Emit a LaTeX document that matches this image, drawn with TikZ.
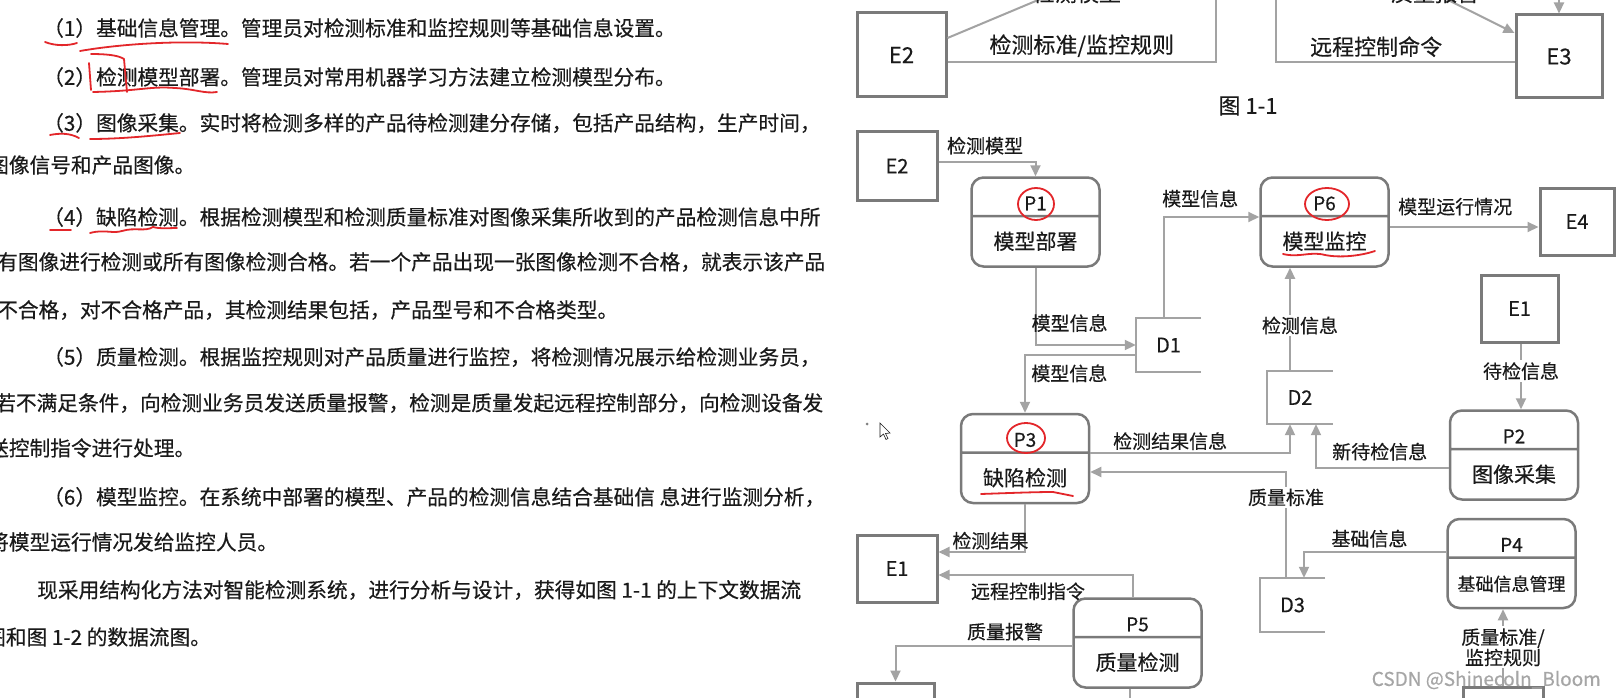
\documentclass[tikz,border=0pt]{standalone}
\usepackage{fontspec}
\setmainfont{Noto Sans CJK SC}[FakeBold=0.4]
\usepackage{tikz}
\usetikzlibrary{arrows.meta,shapes.multipart,positioning}
\usepackage{xcolor}
\definecolor{ink}{HTML}{1A1A1A}
\definecolor{boxgray}{HTML}{7A7A7A}
\definecolor{linegray}{HTML}{A3A3A3}
\definecolor{penred}{HTML}{E3262A}
% struts for the two parts of a process box
\newcommand{\ptag}{\fontsize{19}{22}\selectfont\rule[-4.5pt]{0pt}{36pt}}
\newcommand{\pname}{\fontsize{21}{24}\selectfont\rule[-16pt]{0pt}{48pt}}
\tikzset{
  para/.style={anchor=west,inner sep=0pt,font=\fontsize{20.7}{24}\selectfont,text=ink},
  ext_box/.style={draw=boxgray,line width=3pt,fill=white,inner sep=0pt,
    font=\fontsize{20}{24}\selectfont,text=ink},
  proc_box/.style={rectangle split,rectangle split parts=2,draw=boxgray,line width=2.5pt,
    fill=white,rounded corners=12pt,text width=128pt,align=center,inner xsep=0pt,
    inner ysep=0pt,text=ink},
  store_box/.style={minimum width=65pt,minimum height=53pt,inner sep=0pt,
    font=\fontsize{20}{24}\selectfont,text=ink},
  store_line/.style={draw=linegray,line width=2pt},
  flow/.style={draw=linegray,line width=2pt},
  arr/.style={-{Triangle[length=11pt,width=10pt]},draw=linegray,line width=2pt},
  lbl/.style={inner sep=0pt,font=\fontsize{19}{22}\selectfont,text=ink},
  lbl_big/.style={inner sep=0pt,font=\fontsize{22}{26}\selectfont,text=ink},
  pen/.style={draw=penred,line width=1.8pt,line cap=round,line join=round},
}

\begin{document}
\begin{tikzpicture}[x=1pt,y=-1pt]
  \fill[white] (0,0) rectangle (1617,698);
  \useasboundingbox (0,0) rectangle (1617,698);

  % text column
  \node[para] (t1) at (43,28) {（1）基础信息管理。管理员对检测标准和监控规则等基础信息设置。};
  \node[para] (t2) at (43,77) {（2）检测模型部署。管理员对常用机器学习方法建立检测模型分布。};
  \node[para] (t3) at (43,123) {（3）图像采集。实时将检测多样的产品待检测建分存储，包括产品结构，生产时间，};
  \node[para] (t4) at (-12,165) {图像信号和产品图像。};
  \node[para] (t5) at (43,217) {（4）缺陷检测。根据检测模型和检测质量标准对图像采集所收到的产品检测信息中所};
  \node[para] (t6) at (-3,262) {有图像进行检测或所有图像检测合格。若一个产品出现一张图像检测不合格，就表示该产品};
  \node[para] (t7) at (-3,310) {不合格，对不合格产品，其检测结果包括，产品型号和不合格类型。};
  \node[para] (t8) at (43,357) {（5）质量检测。根据监控规则对产品质量进行监控，将检测情况展示给检测业务员，};
  \node[para] (t9) at (-5,403) {若不满足条件，向检测业务员发送质量报警，检测是质量发起远程控制部分，向检测设备发};
  \node[para] (t10) at (-12,448) {送控制指令进行处理。};
  \node[para] (t11) at (43,497) {（6）模型监控。在系统中部署的模型、产品的检测信息结合基础信 息进行监测分析，};
  \node[para] (t12) at (-12,542) {将模型运行情况发给监控人员。};
  \node[para] (t13) at (37,590) {现采用结构化方法对智能检测系统，进行分析与设计，获得如图 1-1 的上下文数据流};
  \node[para] (t14) at (-15,637) {图和图 1-2 的数据流图。};

  % red marks on the text
  \draw[pen] (45,42) .. controls (55,46) and (68,46) .. (77,43);
  \draw[pen] (80,51) .. controls (120,44) and (180,40) .. (228,44);
  \draw[pen] (91,54) .. controls (105,54) and (118,55) .. (124,59) -- (127,92);
  \draw[pen] (89,63) -- (91,90);
  \draw[pen] (93,92) .. controls (140,91) and (150,86) .. (175,88) .. controls (195,89) and (205,94) .. (217,92);
  \draw[pen] (50,135) .. controls (60,133) and (70,133) .. (79,138);
  \draw[pen] (90,139) .. controls (120,139) and (150,136) .. (180,133);
  \draw[pen] (50,230) -- (71,230);
  \draw[pen] (90,233) .. controls (105,229) and (112,234) .. (122,231) .. controls (135,227) and (145,232) .. (153,227) .. controls (160,229) and (170,228) .. (177,228);

  % bottom of Fig. 1-1
  \node[ext_box,minimum width=89pt,minimum height=84pt,font=\fontsize{22}{26}\selectfont] (e2a) at (901.5,55) {E2};
  \node[ext_box,minimum width=86pt,minimum height=83pt,font=\fontsize{22}{26}\selectfont] (e3a) at (1559,56.5) {E3};
  \coordinate (c1) at (1216,-10);
  \coordinate (c2) at (1276,-10);
  \coordinate (c3) at (1428,-10);
  \coordinate (c4) at (1559,-10);
  \coordinate (c5) at (1062,-10);
  \draw[flow] ([yshift=17pt]e2a.east) -- (c5);
  \node[lbl_big] (l_top1) at (1077,-7) {检测模型};
  \draw[flow] ([yshift=-7pt]e2a.east) -| node[lbl_big,above=4pt,pos=0.25]{检测标准/监控规则} (c1);
  \draw[flow] (c2) |- node[lbl_big,above=4pt,pos=0.71]{远程控制命令} ([yshift=-5.5pt]e3a.west);
  \draw[arr] (c3) -- ([yshift=23.5pt]e3a.west);
  \node[lbl_big] (l_top2) at (1435,-7) {质量报警};
  \draw[arr] (c4) -- (e3a.north);
  \node[lbl_big] (cap1) at (1248,106) {图 1-1};

  % Fig. 1-2
  \node[ext_box,minimum width=80pt,minimum height=68pt] (e2b) at (897,166) {E2};
  \node[proc_box] (p1) at (1035.5,222) {\ptag P1\nodepart{two}\pname 模型部署};
  \node[proc_box] (p6) at (1324.5,222) {\ptag P6\nodepart{two}\pname 模型监控};
  \node[ext_box,minimum width=74pt,minimum height=67pt] (e4) at (1577,221.5) {E4};
  \node[ext_box,minimum width=77pt,minimum height=67pt] (e1r) at (1519.5,308.5) {E1};
  \node[store_box] (d1) at (1168.5,345) {D1};
  \node[store_box,minimum height=53pt] (d2) at (1300,397.5) {D2};
  \node[proc_box] (p3) at (1025,458.5) {\ptag P3\nodepart{two}\pname 缺陷检测};
  \node[proc_box] (p2) at (1514,455) {\ptag P2\nodepart{two}\pname 图像采集};
  \node[ext_box,minimum width=80pt,minimum height=67pt] (e1l) at (897,568.5) {E1};
  \node[proc_box] (p4) at (1511.5,563.5) {\ptag P4\nodepart{two}\pname{\fontsize{18}{22}\selectfont 基础信息管理}};
  \node[store_box,minimum height=54pt] (d3) at (1292.5,605) {D3};
  \node[proc_box] (p5) at (1137.5,643) {\ptag P5\nodepart{two}\pname 质量检测};
  \node[ext_box,minimum width=77pt,minimum height=67pt] (eb1) at (895.5,716.5) {};
  \node[ext_box,minimum width=80pt,minimum height=67pt] (eb2) at (1503,720.5) {};
  \coordinate (c6) at (1290,0);
  \coordinate (c7) at (1316,0);
  \coordinate (c8) at (1130,712);

  % data stores (open on the right)
  \draw[store_line] (d1.north east) -- (d1.north west) -- (d1.south west) -- (d1.south east);
  \draw[store_line] (d2.north east) -- (d2.north west) -- (d2.south west) -- (d2.south east);
  \draw[store_line] (d3.north east) -- (d3.north west) -- (d3.south west) -- (d3.south east);

  % flows
  \draw[arr] ([yshift=4pt]e2b.east) -| node[lbl,above=6.5pt,pos=0.24]{检测模型} (p1.north);
  \draw[arr] (p1.south) |- node[lbl,above=12pt,pos=0.67]{模型信息} (d1.west);
  \draw[arr] ([yshift=-10pt]d1.west) -| node[lbl,below=8.5pt,pos=0.3]{模型信息} (p3.north);
  \draw[arr] ([xshift=-4.5pt]d1.north) |- node[lbl,above=8.5pt,pos=0.69]{模型信息} ([yshift=5pt]p6.west);
  \draw[arr] ([yshift=-5pt]p6.east) -- node[lbl,above=10.5pt,pos=0.44]{模型运行情况} ([yshift=-5.5pt]e4.west);
  \draw[arr] (d2.north -| c6) -- node[lbl,fill=white,inner sep=2pt,xshift=10pt,pos=0.44]{检测信息} (p6.south -| c6);
  \draw[arr] ([xshift=1.5pt]e1r.south) -- node[lbl,fill=white,inner sep=2pt,pos=0.42]{待检信息} ([xshift=1.5pt]e1r.south |- p2.north);
  \draw[arr] ([yshift=5.5pt]p3.east) -| node[lbl,above=2pt,pos=0.2]{检测结果信息} (d2.south -| c6);
  \draw[arr] ([yshift=-13pt]p2.west) -| node[lbl,above=6.5pt,pos=0.26]{新待检信息} (d2.south -| c7);
  \draw[arr] ([xshift=-6.5pt]d3.north) |- node[lbl,fill=white,inner sep=2pt,pos=0.38]{质量标准} ([yshift=-13.5pt]p3.east);
  \draw[arr] ([yshift=11.5pt]p4.west) -| node[lbl,above=3.5pt,pos=0.27]{基础信息} ([xshift=11.5pt]d3.north);
  \draw[arr] (p3.south) |- node[lbl,above=1.5pt,pos=0.7]{检测结果} ([yshift=16.5pt]e1l.east);
  \draw[arr] ([xshift=-4.5pt]p5.north) |- node[lbl,below=6.5pt,pos=0.77]{远程控制指令} ([yshift=-6.5pt]e1l.east);
  \draw[arr] ([yshift=-3pt]p5.west) -| node[lbl,above=4.5pt,pos=0.19]{质量报警} (eb1.north);
  \draw[flow] ([xshift=-7.5pt]p5.south) -- (c8);
  \draw[arr] (eb2.north) -- node[lbl,fill=white,inner sep=2pt,align=center,pos=0.5,font=\fontsize{19}{17}\selectfont]{质量标准/\\监控规则} (eb2.north |- p4.south);

  % red marks on the diagram
  \draw[pen] (1036,204) ellipse [x radius=18,y radius=16];
  \draw[pen] (1327,204) ellipse [x radius=22,y radius=16];
  \draw[pen] (1026,438) ellipse [x radius=19,y radius=15];
  \draw[pen] (1283,254) .. controls (1300,258) and (1310,251) .. (1325,255) .. controls (1340,258) and (1360,256) .. (1375,251);
  \draw[pen] (981,494) .. controls (1010,493) and (1035,492) .. (1053,492) -- (1073,496);

  % mouse pointer
  \fill[gray] (867,424) circle (1.5pt);
  \draw[ink,line width=0.6pt,fill=white] (880,423) -- (880,437) -- (883.5,434) -- (886,439.5) -- (888,438.5) -- (885.5,433.5) -- (890,433) -- cycle;

  % watermark
  \node[anchor=east,inner sep=0pt,text=gray!70,font=\fontsize{19}{22}\selectfont] (wm) at (1601,680) {CSDN @Shinecoln\_Bloom};
\end{tikzpicture}
\end{document}
